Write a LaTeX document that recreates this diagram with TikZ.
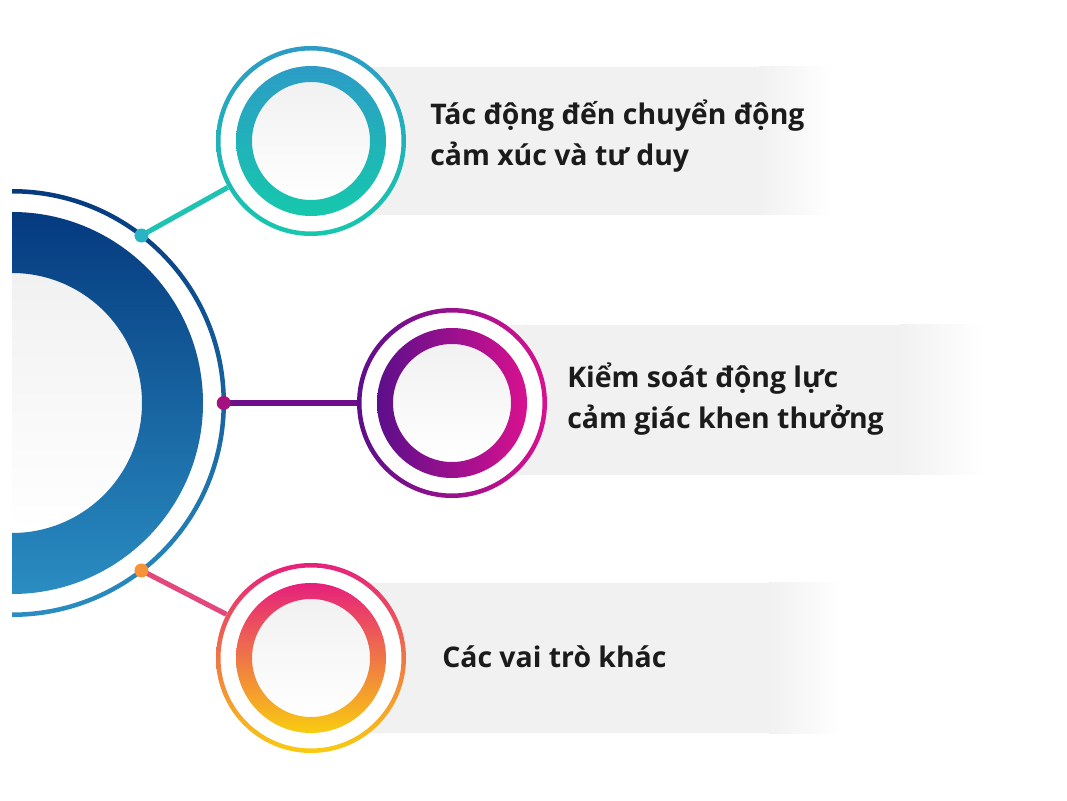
\documentclass[tikz,border=0pt]{standalone}
\usepackage{fontspec}
\setmainfont{Open Sans}
\definecolor{band}{HTML}{F1F1F1}
\definecolor{innerA}{HTML}{F1F1F1}
\definecolor{txt}{HTML}{1B1B1B}
\definecolor{hubA}{HTML}{053A7F}
\definecolor{hubB}{HTML}{2A8DC2}
\definecolor{tealA}{HTML}{2C9CC6}
\definecolor{tealB}{HTML}{16C8AC}
\definecolor{tealL}{HTML}{1FC3B1}
\definecolor{tealD}{HTML}{2AB3C2}
\definecolor{purA}{HTML}{5C0F8B}
\definecolor{purB}{HTML}{D8118F}
\definecolor{purL}{HTML}{6C0F88}
\definecolor{purD}{HTML}{A3127F}
\definecolor{pinkA}{HTML}{E6207C}
\definecolor{pinkB}{HTML}{F9CC10}
\definecolor{pinkL}{HTML}{E2487A}
\definecolor{pinkD}{HTML}{F5923A}
\begin{document}
\begin{tikzpicture}[x=0.75pt,y=0.75pt,
  lbl/.style={font=\fontsize{21.3}{30.75}\selectfont\bfseries, text=txt, align=left, inner sep=0pt, anchor=base west},
  hubdot/.style={circle, inner sep=0pt, minimum size=10.5pt},
  link/.style={line width=3.8pt},
  ringnode/.style={circle, inner sep=0pt, minimum size=142.5pt}]
\useasboundingbox (0,0) rectangle (1067,800);
\fill[white] (0,0) rectangle (1067,800);

% bands
\fill[band] (311,585) rectangle (760,733);
\shade[left color=band, right color=white] (759,585) rectangle (832,733);
\fill[band] (452,325) rectangle (900,475);
\shade[left color=band, right color=white] (899,325) rectangle (985,475);
\fill[band] (311,67) rectangle (770,217);
\shade[left color=band, right color=white] (769,67) rectangle (842,217);

% hub
\begin{scope}
  \clip (12,0) rectangle (1067,800);
  \node[circle, inner sep=0pt, minimum size=321pt] (hub) at (12,397) {};
  \shade[top color=innerA, bottom color=white] (hub.center) circle (130);
  \shade[even odd rule, top color=hubA, bottom color=hubB] (hub.center) circle (191) (hub.center) circle (130);
  \shade[even odd rule, top color=hubA, bottom color=hubB] (hub.center) circle (214) (hub.center) circle (209.5);
\end{scope}

% satellite circles
\node[ringnode] (c1) at (311,659) {};
\node[ringnode] (c2) at (452,397) {};
\node[ringnode] (c3) at (311,142) {};

\foreach \c in {c1,c2,c3}{
  \fill[white] (\c.center) circle (95);
  \shade[top color=innerA, bottom color=white] (\c.center) circle (59);
}
\shade[even odd rule, top color=tealA, bottom color=tealB] (c1.center) circle (75) (c1.center) circle (59);
\shade[even odd rule, top color=tealA, bottom color=tealB] (c1.center) circle (95) (c1.center) circle (90.5);
\shade[even odd rule, left color=purA, right color=purB] (c2.center) circle (75) (c2.center) circle (59);
\shade[even odd rule, left color=purA, right color=purB] (c2.center) circle (95) (c2.center) circle (90.5);
\shade[even odd rule, top color=pinkA, bottom color=pinkB] (c3.center) circle (75) (c3.center) circle (59);
\shade[even odd rule, top color=pinkA, bottom color=pinkB] (c3.center) circle (95) (c3.center) circle (90.5);

% connectors
\coordinate (p1) at ([shift={(12,397)}]52.3:211.7);
\coordinate (p2) at ([shift={(12,397)}]0:211.7);
\coordinate (p3) at ([shift={(12,397)}]-52.3:211.7);
\draw[link, tealL] (p1) -- (c1);
\draw[link, purL] (p2) -- (c2);
\draw[link, pinkL] (p3) -- (c3);
\node[hubdot, fill=tealD] (d1) at (p1) {};
\node[hubdot, fill=purD] (d2) at (p2) {};
\node[hubdot, fill=pinkD] (d3) at (p3) {};

% labels (anchor = baseline of the last line)
\node[lbl] (t1) at (430,634) {Tác động đến chuyển động\\cảm xúc và tư duy};
\node[lbl] (t2) at (567,371) {Kiểm soát động lực\\cảm giác khen thưởng};
\node[lbl] (t3) at (442,133) {Các vai trò khác};
\end{tikzpicture}
\end{document}
